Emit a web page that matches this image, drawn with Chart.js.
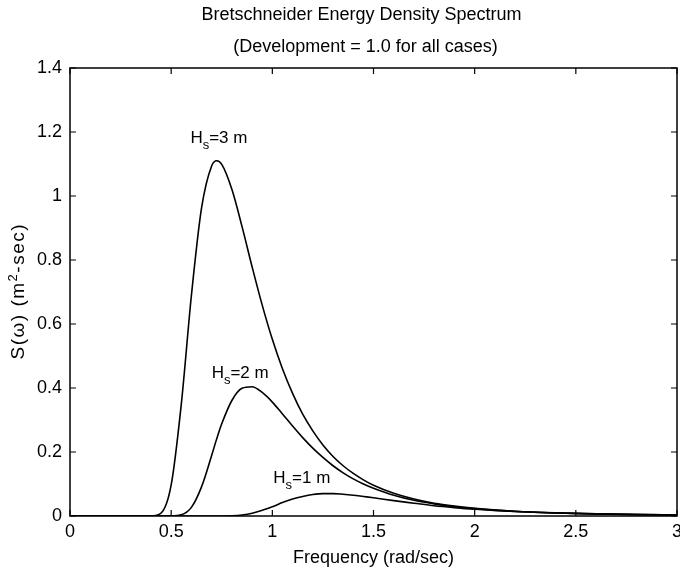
<!DOCTYPE html>
<html>
<head>
<meta charset="utf-8">
<script src="https://cdn.jsdelivr.net/npm/chart.js@4.4.0/dist/chart.umd.min.js"></script>
<style>
  body { margin: 0; background: #fff; }
  canvas { display: block; }
</style>
</head>
<body>
<canvas id="spectrum" width="680" height="573"></canvas>
<script>
// frequency grid (rad/sec)
const freq = [0, 0.1, 0.2, 0.3, 0.35, 0.4, 0.45, 0.5, 0.55, 0.6, 0.65, 0.7, 0.725, 0.75, 0.8, 0.85, 0.9, 0.95, 1,
  1.05, 1.1, 1.15, 1.2, 1.25, 1.3, 1.35, 1.4, 1.45, 1.5, 1.6, 1.7, 1.8, 1.9, 2, 2.2, 2.4, 2.6, 2.8, 3];

// S(w) in m^2-sec for each wave height
const hs3 = [0, 0, 0, 0, 0, 0.0001, 0.009, 0.097, 0.349, 0.689, 0.962, 1.094, 1.110, 1.099, 1.021, 0.905, 0.779, 0.659, 0.552,
  0.460, 0.383, 0.318, 0.266, 0.222, 0.186, 0.157, 0.133, 0.113, 0.096, 0.071, 0.053, 0.040, 0.031, 0.024, 0.015, 0.0097, 0.0065, 0.0045, 0.0032];
const hs2 = [0, 0, 0, 0, 0, 0, 0, 0.0001, 0.0036, 0.027, 0.091, 0.189, 0.241, 0.288, 0.361, 0.399, 0.404, 0.386, 0.356,
  0.319, 0.281, 0.245, 0.212, 0.183, 0.157, 0.135, 0.116, 0.100, 0.087, 0.065, 0.049, 0.038, 0.029, 0.023, 0.014, 0.0094, 0.0063, 0.0044, 0.0031];
const hs1 = [0, 0, 0, 0, 0, 0, 0, 0, 0, 0, 0, 0, 0, 0.0001, 0.0007, 0.0031, 0.0085, 0.018, 0.029,
  0.042, 0.053, 0.061, 0.067, 0.070, 0.070, 0.068, 0.065, 0.061, 0.057, 0.048, 0.040, 0.032, 0.026, 0.021, 0.014, 0.0095, 0.0066, 0.0046, 0.0033];

const seriesNames = ["3", "2", "1"];
// where each curve label sits (data coords: left edge x, middle y)
const labelX = [0.595, 0.70, 1.005];
const labelY = [1.18, 0.445, 0.118];

const titleLines = ["Bretschneider Energy Density Spectrum", "(Development = 1.0 for all cases)"];
// y label pieces: [text, superscript?]
const yLabel = [["S(ω) (m", false], ["2", true], ["-sec)", false]];

const FONT = "'Liberation Sans', Arial, sans-serif";

function pts(arr) {
  return freq.map((x, i) => ({ x: x, y: arr[i] }));
}

function plain(v) {
  return String(Number(v.toFixed(2)));
}

// frame, inward ticks, titles and curve labels (matlab look)
const decor = {
  id: "decor",
  afterDraw(chart) {
    const ctx = chart.ctx;
    const a = chart.chartArea;
    const xs = chart.scales.x, ys = chart.scales.y;
    ctx.save();
    ctx.strokeStyle = "#000";
    ctx.lineWidth = 1.5;
    ctx.strokeRect(a.left, a.top, a.right - a.left, a.bottom - a.top);
    ctx.lineWidth = 1.2;
    ctx.beginPath();
    xs.ticks.forEach(t => {
      const px = xs.getPixelForValue(t.value);
      ctx.moveTo(px, a.bottom); ctx.lineTo(px, a.bottom - 6);
      ctx.moveTo(px, a.top); ctx.lineTo(px, a.top + 6);
    });
    ys.ticks.forEach(t => {
      const py = ys.getPixelForValue(t.value);
      ctx.moveTo(a.left, py); ctx.lineTo(a.left + 6, py);
      ctx.moveTo(a.right, py); ctx.lineTo(a.right - 6, py);
    });
    ctx.stroke();

    ctx.fillStyle = "#000";
    ctx.textAlign = "center";
    ctx.textBaseline = "middle";
    ctx.font = "18px " + FONT;
    const cx = (a.left + a.right) / 2 - 12;
    ctx.fillText(titleLines[0], cx, 15);
    ctx.fillText(titleLines[1], cx + 4, 47);

    ctx.textAlign = "left";
    seriesNames.forEach((n, i) => {
      let px = xs.getPixelForValue(labelX[i]);
      const py = ys.getPixelForValue(labelY[i]);
      ctx.font = "17px " + FONT;
      ctx.fillText("H", px, py);
      px += ctx.measureText("H").width;
      ctx.font = "13px " + FONT;
      ctx.fillText("s", px, py + 7);
      px += ctx.measureText("s").width;
      ctx.font = "17px " + FONT;
      ctx.fillText("=" + n + " m", px, py);
    });

    // rotated y label
    const spacing = 1.5;
    const chars = [];
    yLabel.forEach(([txt, sup]) => {
      for (const ch of txt) chars.push([ch, sup]);
    });
    let total = 0;
    chars.forEach(([ch, sup]) => {
      ctx.font = (sup ? "13px " : "19px ") + FONT;
      total += ctx.measureText(ch).width + spacing;
    });
    total -= spacing;
    ctx.translate(19, 292);
    ctx.rotate(-Math.PI / 2);
    let p = -total / 2;
    chars.forEach(([ch, sup]) => {
      ctx.font = (sup ? "13px " : "19px ") + FONT;
      ctx.fillText(ch, p, sup ? -6 : 0);
      p += ctx.measureText(ch).width + spacing;
    });
    ctx.restore();
  }
};

const lineStyle = {
  borderColor: "#000",
  borderWidth: 1.6,
  pointRadius: 0,
  fill: false,
  cubicInterpolationMode: "monotone"
};

new Chart(document.getElementById("spectrum"), {
  type: "line",
  data: {
    datasets: [
      Object.assign({ label: "Hs=3 m", data: pts(hs3) }, lineStyle),
      Object.assign({ label: "Hs=2 m", data: pts(hs2) }, lineStyle),
      Object.assign({ label: "Hs=1 m", data: pts(hs1) }, lineStyle)
    ]
  },
  options: {
    responsive: false,
    animation: false,
    layout: { padding: { top: 68, right: 3, left: 0, bottom: 0 } },
    plugins: {
      legend: { display: false },
      tooltip: { enabled: false },
      title: { display: false }
    },
    scales: {
      x: {
        type: "linear",
        min: 0, max: 3,
        ticks: { stepSize: 0.5, color: "#000", font: { family: FONT, size: 18 }, padding: 5, maxRotation: 0, callback: plain },
        grid: { display: false, drawTicks: false },
        border: { display: false },
        title: { display: true, text: "Frequency (rad/sec)", color: "#000", font: { family: FONT, size: 18 }, padding: { top: 2 } },
        afterFit(s) { s.height = 57; s.paddingLeft = 0; s.paddingRight = 0; }
      },
      y: {
        min: 0, max: 1.4,
        ticks: { stepSize: 0.2, color: "#000", font: { family: FONT, size: 18 }, padding: 8, callback: plain },
        grid: { display: false, drawTicks: false },
        border: { display: false },
        afterFit(s) { s.width = 70; s.paddingTop = 0; s.paddingBottom = 0; }
      }
    }
  },
  plugins: [decor]
});
</script>
</body>
</html>
